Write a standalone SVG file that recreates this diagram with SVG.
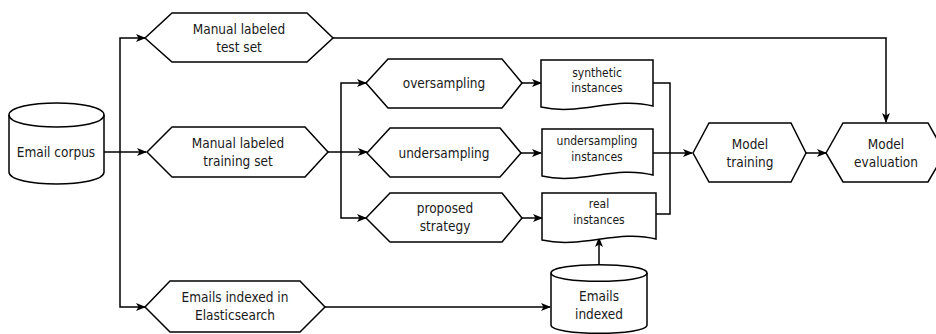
<svg xmlns="http://www.w3.org/2000/svg" width="936" height="334" viewBox="0 0 936 334">
<defs>
<marker id="arr" viewBox="0 0 10 10" refX="9" refY="5" markerWidth="10" markerHeight="10" markerUnits="userSpaceOnUse" orient="auto">
<path d="M0,1 L10,5 L0,9 L2.5,5 Z" fill="#000"/>
</marker>
<style>
.s{fill:#fff;stroke:#000;stroke-width:1.5}
.c{fill:none;stroke:#000;stroke-width:1.5}
.a{fill:none;stroke:#000;stroke-width:1.5;marker-end:url(#arr)}
text{font-family:"DejaVu Sans Condensed","DejaVu Sans",sans-serif;font-stretch:condensed;font-size:13.5px;fill:#1a1a1a;text-anchor:middle}
.d{font-size:12px}
</style>
</defs>
<rect width="936" height="334" fill="#fff"/>
<g id="connectors">
<path class="c" d="M104,152 H120"/>
<path class="a" d="M120,152 V38 H145"/>
<path class="a" d="M120,152 H146"/>
<path class="a" d="M120,152 V307 H145"/>
<path class="a" d="M333,38 H886 V122"/>
<path class="c" d="M328,152 H341"/>
<path class="a" d="M341,152 V83 H366"/>
<path class="a" d="M341,152 H367"/>
<path class="a" d="M341,152 V218 H366"/>
<path class="a" d="M522,83 H541"/>
<path class="a" d="M521,153 H541"/>
<path class="a" d="M522,218 H542"/>
<path class="c" d="M653,83 H670 V214 H656"/>
<path class="a" d="M653,153 H692"/>
<path class="a" d="M325,307 H550"/>
<path class="a" d="M599,265 V238"/>
<path class="a" d="M806,153 H826"/>
</g>
<g id="email-corpus">
<path class="s" d="M9,115 C9,99 104,99 104,115 V172 C104,188 9,188 9,172 Z"/>
<path class="c" d="M9,115 C9,131 104,131 104,115"/>
<text x="56" y="157">Email corpus</text>
</g>
<g id="test-set">
<path class="s" d="M145,38 L172,13 H307 L333,38 L307,62 H172 Z"/>
<text x="239" y="34">Manual labeled</text>
<text x="239" y="52">test set</text>
</g>
<g id="training-set">
<path class="s" d="M147,152 L172,127 H305 L328,152 L305,177 H172 Z"/>
<text x="238" y="148">Manual labeled</text>
<text x="238" y="166">training set</text>
</g>
<g id="indexed-es">
<path class="s" d="M145,307 L170,281 H300 L325,307 L300,332 H170 Z"/>
<text x="235" y="302">Emails indexed in</text>
<text x="235" y="320">Elasticsearch</text>
</g>
<g id="oversampling">
<path class="s" d="M366,83 L388,59 H502 L522,83 L502,108 H388 Z"/>
<text x="444" y="88">oversampling</text>
</g>
<g id="undersampling">
<path class="s" d="M367,153 L390,128 H500 L521,153 L500,177 H390 Z"/>
<text x="444" y="158">undersampling</text>
</g>
<g id="proposed">
<path class="s" d="M366,218 L390,193 H502 L522,218 L502,242 H390 Z"/>
<text x="445" y="213">proposed</text>
<text x="445" y="231">strategy</text>
</g>
<g id="synthetic">
<path class="s" d="M541,60 H653 V106 C615,96 580,116 541,107 Z"/>
<text class="d" x="597" y="77">synthetic</text>
<text class="d" x="597" y="92">instances</text>
</g>
<g id="under-inst">
<path class="s" d="M542,129 H653 V175 C615,165 580,185 542,176 Z"/>
<text class="d" x="597" y="145">undersampling</text>
<text class="d" x="597" y="161">instances</text>
</g>
<g id="real">
<path class="s" d="M542,193 H656 V239 C618,229 582,249 542,240 Z"/>
<text class="d" x="599" y="208">real</text>
<text class="d" x="599" y="224">instances</text>
</g>
<g id="emails-indexed">
<path class="s" d="M551,273 C551,262 647,262 647,273 V325 C647,336 551,336 551,325 Z"/>
<path class="c" d="M551,273 C551,284 647,284 647,273"/>
<text x="599" y="301">Emails</text>
<text x="599" y="319">indexed</text>
</g>
<g id="model-training">
<path class="s" d="M693,153 L709,123 H791 L806,153 L791,182 H709 Z"/>
<text x="750" y="149">Model</text>
<text x="750" y="167">training</text>
</g>
<g id="model-evaluation">
<path class="s" d="M826,153 L843,123 H928 L945,153 L928,182 H843 Z"/>
<text x="886" y="149">Model</text>
<text x="886" y="167">evaluation</text>
</g>
</svg>
